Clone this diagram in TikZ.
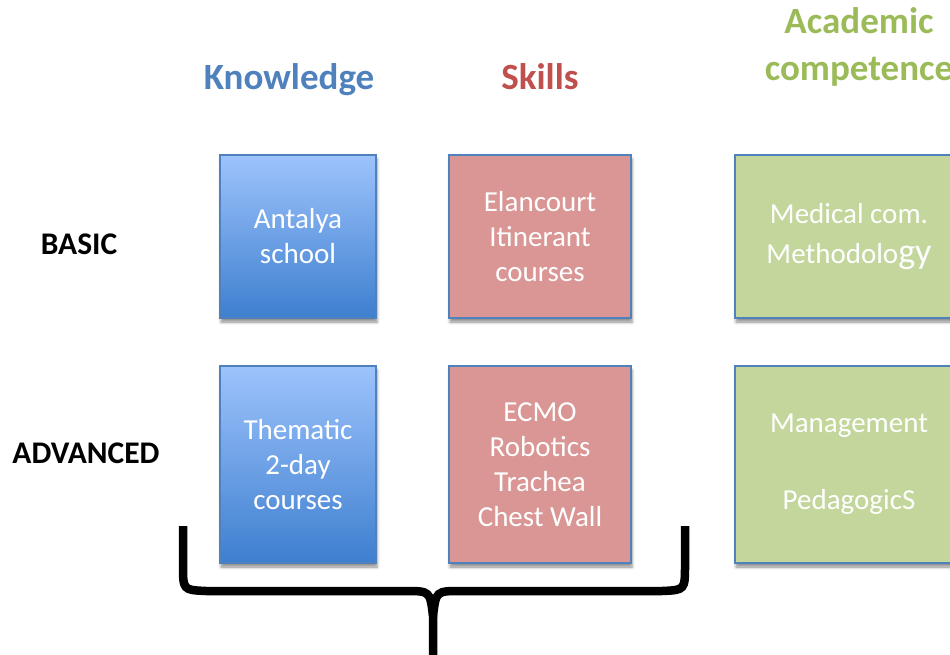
\documentclass[tikz,border=0pt]{standalone}
\usepackage{fontspec}
\setmainfont{Carlito}
\usetikzlibrary{shadows.blur}
\definecolor{hdrblue}{HTML}{4F81BD}
\definecolor{hdrred}{HTML}{C0504D}
\definecolor{hdrgreen}{HTML}{9BBB59}
\definecolor{bordblue}{HTML}{4F81BD}
\definecolor{kntop}{HTML}{9DC3FC}
\definecolor{knbot}{HTML}{3E7FCF}
\definecolor{skfill}{HTML}{D99694}
\definecolor{acfill}{HTML}{C3D69B}
\begin{document}
\begin{tikzpicture}[x=1pt,y=-1pt,
  box/.style={draw=bordblue, line width=1.5pt, inner sep=0pt, align=center,
    text=white, font=\fontsize{29}{35}\selectfont,
    blur shadow={shadow xshift=1pt, shadow yshift=-4pt, shadow blur radius=3pt, shadow opacity=45}},
  knbox/.style={box, top color=kntop, bottom color=knbot, minimum width=156pt},
  skbox/.style={box, fill=skfill, minimum width=182pt},
  acbox/.style={box, fill=acfill, minimum width=228pt},
  basicrow/.style={minimum height=163pt},
  advrow/.style={minimum height=197pt},
  header/.style={anchor=base, font=\fontsize{37}{44}\selectfont\bfseries},
  rowlabel/.style={anchor=base, font=\fontsize{31.5}{38}\selectfont\bfseries},
  brace/.style={line width=8.5pt, line join=miter}
]
\useasboundingbox (0,0) rectangle (950,655);
\clip (0,0) rectangle (950,655);

% headers
\node[header, text=hdrblue] (hk) at (289,90) {Knowledge};
\node[header, text=hdrred] (hs) at (540,90) {Skills};
\node[header, text=hdrgreen] (ha1) at (859,34) {Academic};
\node[header, text=hdrgreen] (ha2) at (859,81) {competence};

% row labels
\node[rowlabel] (lb) at (79,254) {BASIC};
\node[rowlabel] (la) at (86,463) {ADVANCED};

% basic row
\node[knbox, basicrow] (kb) at (298,236.5) {Antalya\\school};
\node[skbox, basicrow] (sb) at (540,236.5) {Elancourt\\Itinerant\\courses};
\node[acbox, basicrow] (ab) at (849,236.5) {Medical com.\\[5pt]Methodolo{\fontsize{36}{35}\selectfont gy}};

% advanced row
\node[knbox, advrow] (ka) at (298,464.5) {Thematic\\2-day\\courses};
\node[skbox, advrow] (sa) at (540,464.5) {ECMO\\Robotics\\Trachea\\Chest Wall};
\node[acbox, advrow] (aa) at (849,464.5) {Management\\[42pt]PedagogicS};

% brace
\draw[brace] (183,526) -- (183,565) .. controls (183,590) .. (206,591)
  -- (405,591) .. controls (430,591) .. (433,616) -- (433,656);
\draw[brace] (685,526) -- (685,565) .. controls (685,590) .. (662,591)
  -- (461,591) .. controls (436,591) .. (433,616);
\end{tikzpicture}
\end{document}
